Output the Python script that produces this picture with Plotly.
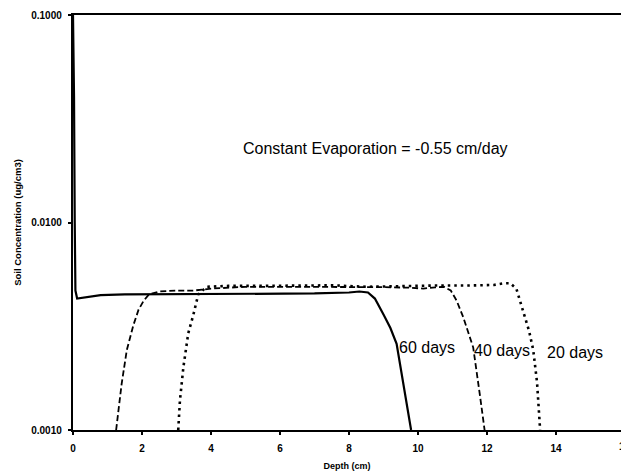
import plotly.graph_objects as go

# 60 days (solid)
depth60 = [0.0, 0.03, 0.05, 0.07, 0.12, 0.2, 0.4, 0.8, 1.5, 3.0, 5.0, 7.0, 8.0, 8.3,
           8.55, 8.75, 9.0, 9.2, 9.38, 9.57, 9.7, 9.8]
conc60 = [0.1, 0.04, 0.01, 0.0047, 0.0043, 0.00432, 0.0044, 0.00447, 0.0045, 0.00451,
          0.00452, 0.00455, 0.0046, 0.00465, 0.0046, 0.0043, 0.0036, 0.0031, 0.0026,
          0.00167, 0.0012, 0.001]

# 40 days (dashed)
depth40 = [1.25, 1.41, 1.56, 1.75, 1.9, 2.05, 2.2, 2.5, 3.0, 3.5, 4.0, 5.0, 6.0, 7.0,
           8.0, 9.0, 9.8, 10.15, 10.5, 10.75, 10.95, 11.12, 11.31, 11.45, 11.6, 11.8, 11.93]
conc40 = [0.001, 0.00167, 0.00243, 0.0032, 0.0038, 0.0042, 0.0045, 0.00465, 0.0047,
          0.0047, 0.0048, 0.0049, 0.0049, 0.0049, 0.00488, 0.00488, 0.00485, 0.0048,
          0.00487, 0.0049, 0.0047, 0.0042, 0.0035, 0.003, 0.0025, 0.00145, 0.001]

# 20 days (dotted)
depth20 = [3.05, 3.1, 3.2, 3.34, 3.49, 3.63, 3.87, 4.5, 5.5, 6.5, 7.5, 8.5, 9.5, 10.5,
           11.5, 12.2, 12.5, 12.67, 12.85, 12.96, 13.1, 13.22, 13.34, 13.45, 13.54]
conc20 = [0.001, 0.00139, 0.00201, 0.00292, 0.0036, 0.0045, 0.0049, 0.00495, 0.00495,
          0.00497, 0.00498, 0.0049, 0.00495, 0.00497, 0.00497, 0.005, 0.0051, 0.0051,
          0.0048, 0.0042, 0.0035, 0.003, 0.00243, 0.0017, 0.001]

x_ticks = [0, 2, 4, 6, 8, 10, 12, 14]
y_ticks = [0.001, 0.01, 0.1]
y_ticktext = ["0.0010", "0.0100", "0.1000"]

FONT = "Arial, Liberation Sans, sans-serif"

fig = go.Figure()
fig.add_trace(go.Scatter(x=depth20, y=conc20, mode="lines",
                         line=dict(color="black", width=2.6, dash="2.5px,4px"),
                         showlegend=False))
fig.add_trace(go.Scatter(x=depth40, y=conc40, mode="lines",
                         line=dict(color="black", width=1.8, dash="6px,3px"),
                         showlegend=False))
fig.add_trace(go.Scatter(x=depth60, y=conc60, mode="lines",
                         line=dict(color="black", width=2.2),
                         showlegend=False))

x_max = 16 * (621 - 73) / (625 - 73)

fig.update_layout(
    width=621, height=471,
    margin=dict(l=73, r=0, t=15, b=41),
    paper_bgcolor="white", plot_bgcolor="white",
    font=dict(family=FONT, color="black"),
    xaxis=dict(range=[0, x_max], tickvals=x_ticks, ticks="outside", ticklen=3,
               tickwidth=1.5, tickcolor="black", showline=True, linecolor="black",
               linewidth=1.8, mirror=True, showgrid=False, zeroline=False,
               ticklabelstandoff=5,
               tickfont=dict(size=10, family=FONT, weight="bold"),
               title=dict(text="Depth (cm)", font=dict(size=9, family=FONT, weight="bold"),
                          standoff=10)),
    yaxis=dict(type="log", range=[-3, -1], tickvals=y_ticks, ticktext=y_ticktext,
               ticks="outside", ticklen=3, tickwidth=1.5, tickcolor="black",
               showline=True, linecolor="black", linewidth=2.4, mirror=False,
               showgrid=False, zeroline=False, ticklabelstandoff=4,
               tickfont=dict(size=10, family=FONT, weight="bold"),
               title=dict(text="Soil Concentration (ug/cm3)",
                          font=dict(size=9.5, family=FONT, weight="bold"), standoff=8)),
    annotations=[
        dict(x=8.78, y=-1.643, xref="x", yref="y", text="Constant Evaporation = -0.55 cm/day",
             showarrow=False, font=dict(size=16, family=FONT)),
        dict(x=10.26, y=-2.600, xref="x", yref="y", text="60 days",
             showarrow=False, font=dict(size=16, family=FONT)),
        dict(x=12.43, y=-2.615, xref="x", yref="y", text="40 days",
             showarrow=False, font=dict(size=16, family=FONT)),
        dict(x=14.55, y=-2.625, xref="x", yref="y", text="20 days",
             showarrow=False, font=dict(size=16, family=FONT)),
        dict(x=16 / x_max, y=0, xref="paper", yref="paper", xanchor="center",
             yanchor="top", yshift=-9,
             text="16", showarrow=False, font=dict(size=10, family=FONT, weight="bold")),
    ],
)

fig.write_html("out.html")
